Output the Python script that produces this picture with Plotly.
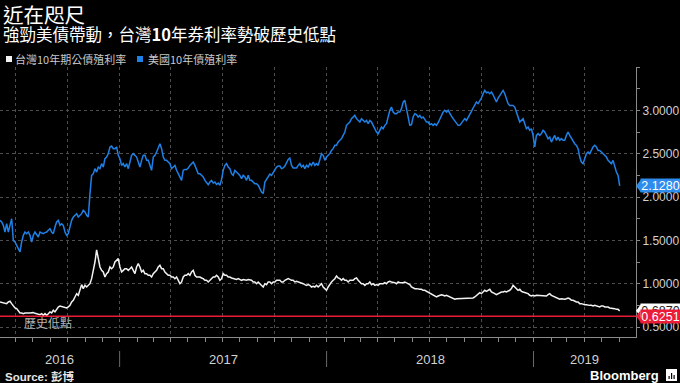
import pandas as pd
import plotly.graph_objects as go

# ---------------- data ----------------
dates = pd.date_range("2016-06-04", "2019-06-02", periods=373)

us10y = [
    1.731, 1.712, 1.673, 1.596, 1.692, 1.596, 1.673, 1.750, 1.500, 1.481,
    1.443, 1.404, 1.366, 1.481, 1.558, 1.596, 1.577, 1.596, 1.558, 1.481,
    1.558, 1.596, 1.558, 1.539, 1.596, 1.589, 1.577, 1.589, 1.596, 1.616,
    1.635, 1.596, 1.577, 1.654, 1.712, 1.731, 1.673, 1.692, 1.673, 1.596,
    1.558, 1.577, 1.673, 1.731, 1.769, 1.789, 1.808, 1.769, 1.789, 1.808,
    1.846, 1.827, 1.789, 1.769, 2.039, 2.250, 2.269, 2.327, 2.288, 2.346,
    2.327, 2.385, 2.346, 2.442, 2.461, 2.500, 2.577, 2.588, 2.558, 2.558,
    2.577, 2.481, 2.442, 2.365, 2.385, 2.346, 2.385, 2.327, 2.404, 2.481,
    2.500, 2.481, 2.461, 2.404, 2.346, 2.423, 2.481, 2.481, 2.423, 2.423,
    2.365, 2.308, 2.461, 2.481, 2.519, 2.577, 2.615, 2.558, 2.461, 2.423,
    2.423, 2.404, 2.385, 2.327, 2.346, 2.365, 2.308, 2.269, 2.212, 2.192,
    2.308, 2.318, 2.318, 2.335, 2.365, 2.385, 2.404, 2.365, 2.308, 2.269,
    2.269, 2.250, 2.231, 2.192, 2.173, 2.142, 2.173, 2.192, 2.161, 2.173,
    2.146, 2.161, 2.135, 2.204, 2.308, 2.365, 2.385, 2.346, 2.327, 2.269,
    2.250, 2.308, 2.288, 2.269, 2.250, 2.212, 2.250, 2.231, 2.192, 2.250,
    2.192, 2.192, 2.173, 2.154, 2.154, 2.135, 2.096, 2.058, 2.040, 2.173,
    2.204, 2.231, 2.265, 2.250, 2.288, 2.318, 2.346, 2.358, 2.358, 2.327,
    2.335, 2.358, 2.396, 2.434, 2.450, 2.365, 2.335, 2.338, 2.335, 2.365,
    2.385, 2.346, 2.365, 2.327, 2.365, 2.346, 2.385, 2.365, 2.404, 2.365,
    2.385, 2.365, 2.442, 2.500, 2.481, 2.423, 2.461, 2.481, 2.500, 2.538,
    2.558, 2.596, 2.596, 2.634, 2.654, 2.673, 2.711, 2.750, 2.827, 2.846,
    2.865, 2.904, 2.923, 2.942, 2.904, 2.884, 2.865, 2.904, 2.884, 2.865,
    2.884, 2.846, 2.884, 2.865, 2.827, 2.788, 2.750, 2.731, 2.769, 2.807,
    2.788, 2.827, 2.846, 2.942, 3.000, 3.038, 2.980, 2.961, 2.961, 2.980,
    2.980, 3.019, 3.096, 3.115, 3.019, 2.950, 2.827, 2.834, 2.923, 2.961,
    2.950, 2.923, 2.942, 2.911, 2.923, 2.896, 2.865, 2.865, 2.834, 2.846,
    2.827, 2.846, 2.827, 2.857, 2.896, 2.950, 2.980, 3.000, 2.980, 3.000,
    2.961, 2.934, 2.904, 2.873, 2.846, 2.827, 2.827, 2.857, 2.884, 2.904,
    2.884, 2.915, 2.950, 2.988, 3.027, 3.065, 3.096, 3.077, 3.104, 3.142,
    3.192, 3.230, 3.203, 3.211, 3.192, 3.211, 3.180, 3.142, 3.096, 3.142,
    3.173, 3.211, 3.230, 3.192, 3.134, 3.077, 3.057, 3.057, 3.057, 3.038,
    2.980, 2.923, 2.865, 2.884, 2.904, 2.846, 2.788, 2.807, 2.769, 2.788,
    2.711, 2.577, 2.711, 2.731, 2.711, 2.731, 2.769, 2.750, 2.711, 2.673,
    2.692, 2.634, 2.673, 2.711, 2.654, 2.692, 2.654, 2.673, 2.654, 2.654,
    2.711, 2.750, 2.711, 2.673, 2.634, 2.615, 2.596, 2.558, 2.461, 2.404,
    2.385, 2.442, 2.500, 2.519, 2.500, 2.538, 2.577, 2.596, 2.577, 2.538,
    2.538, 2.519, 2.500, 2.481, 2.461, 2.423, 2.404, 2.385, 2.423, 2.346,
    2.288, 2.250, 2.128,
]

tw10y = [
    0.789, 0.785, 0.781, 0.770, 0.770, 0.789, 0.797, 0.770, 0.743, 0.720,
    0.712, 0.693, 0.662, 0.662, 0.654, 0.662, 0.666, 0.662, 0.662, 0.666,
    0.666, 0.658, 0.654, 0.647, 0.643, 0.654, 0.635, 0.654, 0.635, 0.654,
    0.674, 0.662, 0.693, 0.674, 0.712, 0.731, 0.743, 0.735, 0.731, 0.724,
    0.720, 0.731, 0.750, 0.789, 0.808, 0.847, 0.885, 0.866, 0.943, 0.989,
    0.943, 0.981, 0.962, 0.981, 1.000, 1.058, 1.154, 1.250, 1.390, 1.308,
    1.193, 1.154, 1.135, 1.077, 1.116, 1.135, 1.193, 1.173, 1.193, 1.250,
    1.270, 1.289, 1.193, 1.135, 1.154, 1.173, 1.173, 1.154, 1.173, 1.193,
    1.154, 1.116, 1.193, 1.231, 1.193, 1.135, 1.154, 1.116, 1.116, 1.097,
    1.097, 1.077, 1.116, 1.135, 1.154, 1.193, 1.212, 1.173, 1.173, 1.135,
    1.116, 1.097, 1.097, 1.077, 1.077, 1.058, 1.077, 1.039, 1.000, 1.020,
    1.077, 1.097, 1.097, 1.116, 1.097, 1.135, 1.154, 1.097, 1.077, 1.077,
    1.077, 1.066, 1.058, 1.039, 1.039, 1.020, 1.039, 1.058, 1.077, 1.077,
    1.097, 1.077, 1.039, 1.058, 1.116, 1.097, 1.097, 1.077, 1.077, 1.066,
    1.058, 1.058, 1.050, 1.058, 1.050, 1.039, 1.047, 1.039, 1.039, 1.047,
    1.039, 1.039, 1.020, 1.020, 1.000, 1.020, 1.000, 0.981, 0.962, 1.000,
    0.989, 1.020, 1.020, 1.000, 1.020, 1.020, 1.039, 1.039, 1.039, 1.020,
    1.020, 1.039, 1.047, 1.058, 1.050, 1.039, 1.039, 1.020, 1.027, 1.020,
    1.020, 1.012, 1.000, 0.989, 0.981, 0.989, 0.981, 0.962, 0.970, 0.962,
    0.981, 0.962, 0.981, 1.000, 0.962, 0.943, 0.924, 0.962, 1.000, 1.020,
    1.039, 1.058, 1.089, 1.066, 1.058, 1.039, 1.058, 1.039, 1.039, 1.020,
    1.039, 1.039, 1.039, 1.058, 1.066, 1.039, 1.020, 1.000, 1.000, 0.981,
    1.000, 1.000, 1.020, 0.989, 1.000, 0.981, 0.989, 0.981, 1.000, 1.000,
    1.000, 1.012, 1.000, 1.020, 1.027, 1.020, 1.020, 1.012, 1.000, 1.020,
    1.012, 1.008, 1.012, 1.020, 1.012, 1.000, 0.989, 0.962, 0.950, 0.943,
    0.943, 0.935, 0.935, 0.935, 0.924, 0.924, 0.912, 0.904, 0.897, 0.885,
    0.873, 0.858, 0.847, 0.858, 0.866, 0.873, 0.866, 0.858, 0.866, 0.858,
    0.847, 0.835, 0.827, 0.820, 0.827, 0.827, 0.835, 0.835, 0.835, 0.835,
    0.827, 0.835, 0.835, 0.827, 0.835, 0.847, 0.866, 0.885, 0.897, 0.885,
    0.904, 0.924, 0.912, 0.924, 0.935, 0.904, 0.897, 0.885, 0.873, 0.885,
    0.897, 0.904, 0.904, 0.912, 0.904, 0.912, 0.924, 0.943, 0.981, 0.962,
    0.943, 0.924, 0.935, 0.912, 0.904, 0.897, 0.885, 0.885, 0.866, 0.858,
    0.866, 0.858, 0.866, 0.866, 0.866, 0.858, 0.866, 0.866, 0.858, 0.873,
    0.885, 0.866, 0.858, 0.847, 0.835, 0.827, 0.820, 0.827, 0.820, 0.820,
    0.827, 0.835, 0.827, 0.808, 0.808, 0.797, 0.789, 0.789, 0.770, 0.770,
    0.762, 0.758, 0.758, 0.750, 0.750, 0.750, 0.743, 0.750, 0.743, 0.731,
    0.731, 0.743, 0.743, 0.731, 0.731, 0.731, 0.720, 0.720, 0.712, 0.712,
    0.704, 0.704, 0.687,
]

record_low = 0.6251
y_ticks = [0.5, 1.0, 1.5, 2.0, 2.5, 3.0]
y_ticktext = ["0.5000", "1.0000", "1.5000", "2.0000", "2.5000", "3.0000"]
years = [2016, 2017, 2018, 2019]
x_start = pd.Timestamp("2016-06-04")
x_end = pd.Timestamp("2019-06-30 18:00")

title = "近在咫尺"
subtitle = "強勁美債帶動，台灣<b>10</b>年券利率勢破歷史低點"
tw_name = "台灣10年期公債殖利率"
us_name = "美國10年債殖利率"
low_text = "歷史低點"

# ---------------- style ----------------
W, H = 680, 383
ML, MR, MT, MB = 0, 44, 67, 46
PW, PH = W - ML - MR, H - MT - MB
BLUE = "#1f80e6"
WHITE = "#f2f2f2"
RED = "#ea1c37"
GRID = "#4d4d4d"
AXIS = "#8a8a8a"
TXT = "#d2d2d2"
CJK = "Noto Sans CJK TC"
LAT = "Liberation Sans, Arial, sans-serif"


def px_x(px):
    return (px - ML) / PW


def px_y(py):
    return (H - MB - py) / PH


fig = go.Figure()
fig.add_trace(go.Scatter(x=dates, y=tw10y, mode="lines", name=tw_name,
                         line=dict(color=WHITE, width=1.5), showlegend=False))
fig.add_trace(go.Scatter(x=dates, y=us10y, mode="lines", name=us_name,
                         line=dict(color=BLUE, width=1.5), showlegend=False))

shapes = []
annotations = []

# record-low line
shapes.append(dict(type="line", xref="paper", yref="y", x0=0, x1=1,
                   y0=record_low, y1=record_low, line=dict(color=RED, width=1.5),
                   layer="above"))

# year separators and year labels
for yr in years[1:]:
    shapes.append(dict(type="line", xref="x", yref="paper",
                       x0=pd.Timestamp(f"{yr}-01-01"), x1=pd.Timestamp(f"{yr}-01-01"),
                       y0=px_y(351), y1=px_y(367), line=dict(color="#6a6a6a", width=1)))
for yr in years:
    a = max(pd.Timestamp(f"{yr}-01-01"), x_start)
    b = min(pd.Timestamp(f"{yr + 1}-01-01"), x_end)
    mid = a + (b - a) / 2
    annotations.append(dict(text=str(yr), xref="x", yref="paper", x=mid, y=px_y(359),
                            xanchor="center", yanchor="middle", showarrow=False,
                            font=dict(family=LAT, size=13, color=TXT)))

# titles
annotations.append(dict(text=title, xref="paper", yref="paper", x=px_x(1), y=px_y(14),
                        xanchor="left", yanchor="middle", showarrow=False,
                        font=dict(family=CJK, size=20.5, color="#ffffff")))
annotations.append(dict(text=subtitle, xref="paper", yref="paper", x=px_x(1), y=px_y(34.5),
                        xanchor="left", yanchor="middle", showarrow=False,
                        font=dict(family=CJK, size=16.5, color="#ffffff")))

# legend (squares + text)
for sq_x, txt_x, col, name in [(6, 13, WHITE, tw_name), (137, 146, BLUE, us_name)]:
    shapes.append(dict(type="rect", xref="paper", yref="paper",
                       x0=px_x(sq_x), x1=px_x(sq_x + 6), y0=px_y(62), y1=px_y(56),
                       fillcolor=col, line=dict(width=0)))
    annotations.append(dict(text=name, xref="paper", yref="paper", x=px_x(txt_x), y=px_y(59),
                            xanchor="left", yanchor="middle", showarrow=False,
                            font=dict(family=CJK, size=11, color="#c8c8c8")))

# record low label text
annotations.append(dict(text=low_text, xref="paper", yref="y", x=px_x(22), y=record_low,
                        yshift=-6, xanchor="left", yanchor="middle", showarrow=False,
                        font=dict(family=CJK, size=12, color="#b4b4b4")))

# right-side value labels
val_labels = [
    (tw10y[-1], f"{tw10y[-1]:.4f}", "#ffffff", "#222222"),
    (us10y[-1], f"{us10y[-1]:.4f}", "#2d8cec", "#ffffff"),
    (record_low, f"{record_low:.4f}", RED, "#ffffff"),
]
half = 6.5 * 3.115 / PH  # half label height in data units
for v, t, bg, fg in val_labels:
    shapes.append(dict(type="path", xref="paper", yref="y",
                       path=f"M {px_x(636)},{v} L {px_x(641)},{v + half} L {px_x(641)},{v - half} Z",
                       fillcolor=bg, line=dict(width=0), layer="above"))
    annotations.append(dict(text=t, xref="paper", yref="y", x=px_x(640), y=v,
                            xanchor="left", yanchor="middle", showarrow=False,
                            width=39, height=13, bgcolor=bg, borderpad=0, align="center",
                            font=dict(family=LAT, size=12.5, color=fg)))

# footer
annotations.append(dict(text="<b>Source:</b> <b>彭博</b>", xref="paper", yref="paper",
                        x=px_x(3), y=px_y(376), xanchor="left", yanchor="middle",
                        showarrow=False, font=dict(family="Liberation Sans, " + CJK, size=11.5,
                                                   color="#e6e6e6")))
annotations.append(dict(text="<b>Bloomberg</b>", xref="paper", yref="paper",
                        x=px_x(661), y=px_y(375), xanchor="right", yanchor="middle",
                        showarrow=False, font=dict(family=LAT, size=13, color="#ffffff")))
shapes.append(dict(type="rect", xref="paper", yref="paper", x0=px_x(666), x1=px_x(677),
                   y0=px_y(381), y1=px_y(369), fillcolor="#ffffff", line=dict(width=0)))
for bx, top in [(668.5, 376), (671, 373), (673.5, 375)]:
    shapes.append(dict(type="rect", xref="paper", yref="paper", x0=px_x(bx), x1=px_x(bx + 1.2),
                       y0=px_y(379), y1=px_y(top), fillcolor="#000000", line=dict(width=0)))

fig.update_layout(
    width=W, height=H,
    margin=dict(l=ML, r=MR, t=MT, b=MB),
    paper_bgcolor="#000000", plot_bgcolor="#000000",
    showlegend=False,
    shapes=shapes, annotations=annotations,
    xaxis=dict(type="date", range=[x_start, x_end], showgrid=True, gridcolor=GRID,
               griddash="dot", gridwidth=1, tick0="2016-07-01", dtick="M3",
               ticks="outside", ticklen=4, tickcolor=AXIS, showticklabels=False,
               showline=True, linecolor=AXIS, linewidth=1, zeroline=False,
               minor=dict(dtick="M1", ticks="outside", ticklen=4, tickcolor=AXIS,
                          showgrid=False)),
    yaxis=dict(side="right", range=[0.385, 3.5], tickvals=y_ticks, ticktext=y_ticktext,
               showgrid=True, gridcolor=GRID, griddash="dot", gridwidth=1,
               ticks="outside", ticklen=3, tickcolor=AXIS, showline=True,
               linecolor=AXIS, linewidth=1, zeroline=False, automargin=False,
               tickfont=dict(family=LAT, size=12, color=TXT),
               minor=dict(dtick=0.25, ticks="outside", ticklen=3, tickcolor=AXIS,
                          showgrid=False)),
)

fig.write_html("out.html",
               config={"displayModeBar": False},
               post_script="document.body.style.margin='0';"
                           "document.body.style.background='#000000';")
